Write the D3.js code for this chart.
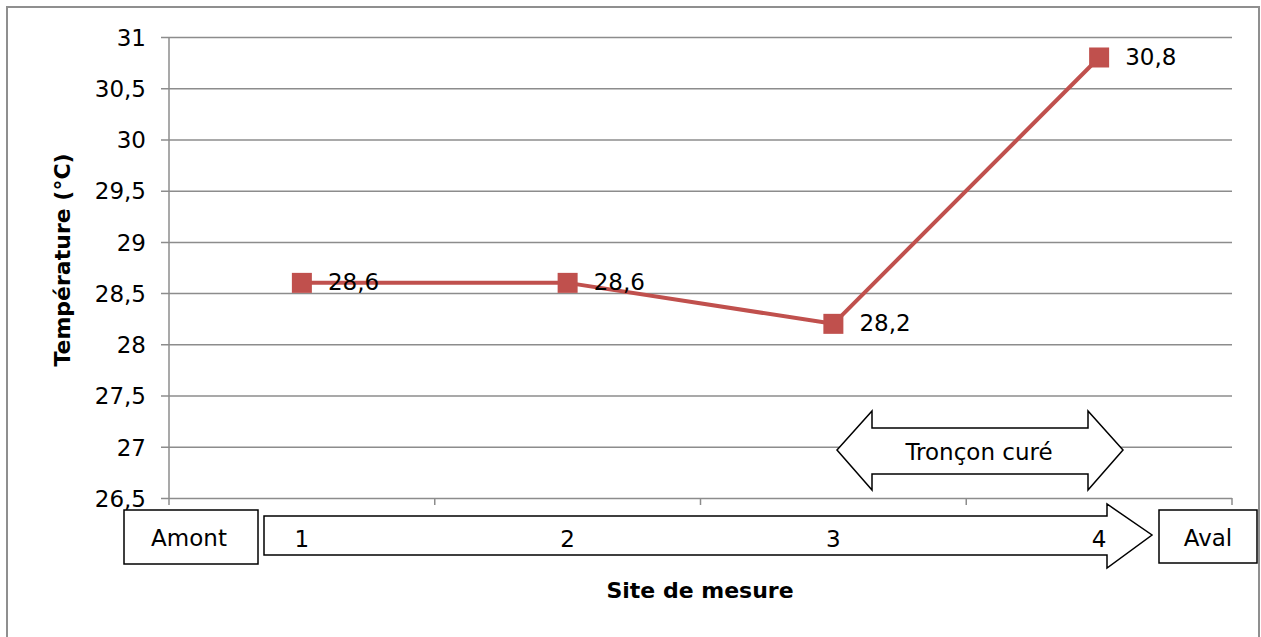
<!DOCTYPE html>
<html>
<head>
<meta charset="utf-8">
<script src="https://cdn.jsdelivr.net/npm/d3@7"></script>
<style>
  html, body { margin: 0; padding: 0; background: #fff; }
  svg { display: block; }
  text { font-family: "DejaVu Sans", "Lato", sans-serif; }
</style>
</head>
<body>
<svg id="chart" width="1261" height="637"></svg>
<script>
// Water temperature at each measuring site, upstream to downstream
const sites = ["1", "2", "3", "4"];
const temperatures = [28.6, 28.6, 28.2, 30.8];
const valueLabels = ["28,6", "28,6", "28,2", "30,8"];
const yTicks = [26.5, 27, 27.5, 28, 28.5, 29, 29.5, 30, 30.5, 31];

const svg = d3.select("#chart");
const plot = { left: 169, right: 1232, top: 37, bottom: 498 };
const gridColor = "#8c8c8c";
const lineColor = "#C0504D";
const labelSize = 23;
const fmt = v => String(v).replace(".", ",");

// Outer chart frame
svg.append("rect")
  .attr("x", 7).attr("y", 7).attr("width", 1252).attr("height", 660)
  .attr("fill", "#fff").attr("stroke", "#8f8f8f").attr("stroke-width", 2);

const x = d3.scaleBand().domain(sites).range([plot.left, plot.right]).padding(0);
const y = d3.scaleLinear().domain([26.5, 31]).range([plot.bottom, plot.top]);

// Horizontal gridlines with left tick stubs
const yAxis = d3.axisLeft(y).tickValues(yTicks).tickFormat(fmt).tickSize(0);
const gy = svg.append("g").attr("transform", `translate(${plot.left - 8},0)`).call(yAxis);
gy.select(".domain").remove();
gy.selectAll(".tick line").attr("stroke", gridColor).attr("stroke-width", 1.5)
  .attr("x1", 0).attr("x2", plot.right - plot.left + 8);
gy.selectAll(".tick text").attr("x", -15).attr("font-size", labelSize).attr("fill", "#000")
  .attr("dy", "0.36em");

// Vertical axis line
svg.append("line")
  .attr("x1", plot.left).attr("x2", plot.left)
  .attr("y1", plot.top).attr("y2", plot.bottom + 7)
  .attr("stroke", gridColor).attr("stroke-width", 1.5);

// Category boundary ticks under the plot
const boundaries = sites.map(s => x(s)).concat([x(sites[sites.length - 1]) + x.bandwidth()]);
svg.append("g").selectAll("line").data(boundaries.slice(1)).join("line")
  .attr("x1", d => d).attr("x2", d => d)
  .attr("y1", plot.bottom).attr("y2", plot.bottom + 7)
  .attr("stroke", gridColor).attr("stroke-width", 1.5);

// Flow direction: Amont box, long arrow, Aval box
const annot = svg.append("g").attr("fill", "#fff").attr("stroke", "#000").attr("stroke-width", 1.5);
annot.append("rect").attr("x", 124).attr("y", 510).attr("width", 134).attr("height", 54);
annot.append("path")
  .attr("d", "M264,516 L1107,516 L1107,504 L1152,535 L1107,568 L1107,555 L264,555 Z");
annot.append("rect").attr("x", 1159).attr("y", 510).attr("width", 98).attr("height", 53);

// Dredged reach double arrow
annot.append("path")
  .attr("d", "M837,450 L872,411 L872,428 L1088,428 L1088,411 L1123,450 L1088,490 L1088,474 L872,474 L872,490 Z");

const note = (tx, ty, s) => svg.append("text").attr("x", tx).attr("y", ty)
  .attr("text-anchor", "middle").attr("dominant-baseline", "middle")
  .attr("font-size", labelSize).text(s);
note(189, 539, "Amont");
note(1208, 539, "Aval");
note(979, 453, "Tronçon curé");

// Site labels along the flow arrow
svg.append("g").selectAll("text").data(sites).join("text")
  .attr("x", d => x(d) + x.bandwidth() / 2).attr("y", 540)
  .attr("text-anchor", "middle").attr("dominant-baseline", "middle")
  .attr("font-size", labelSize).text(d => d);

// Temperature series
const cx = i => x(sites[i]) + x.bandwidth() / 2;
const line = d3.line().x((d, i) => cx(i)).y(d => y(d));
svg.append("path").datum(temperatures)
  .attr("d", line).attr("fill", "none")
  .attr("stroke", lineColor).attr("stroke-width", 4).attr("stroke-linejoin", "round");

svg.append("g").selectAll("rect").data(temperatures).join("rect")
  .attr("x", (d, i) => cx(i) - 10).attr("y", d => y(d) - 10)
  .attr("width", 20).attr("height", 20).attr("fill", lineColor);

svg.append("g").selectAll("text").data(temperatures).join("text")
  .attr("x", (d, i) => cx(i) + 26).attr("y", d => y(d) + 1)
  .attr("dominant-baseline", "middle").attr("font-size", labelSize)
  .text((d, i) => valueLabels[i]);

// Axis titles
svg.append("text")
  .attr("transform", `translate(64,260) rotate(-90)`)
  .attr("text-anchor", "middle").attr("dominant-baseline", "middle")
  .attr("font-weight", "bold").attr("font-size", 22).text("Température (°C)");
svg.append("text")
  .attr("x", 700).attr("y", 592).attr("text-anchor", "middle").attr("dominant-baseline", "middle")
  .attr("font-weight", "bold").attr("font-size", 22).text("Site de mesure");
</script>
</body>
</html>
